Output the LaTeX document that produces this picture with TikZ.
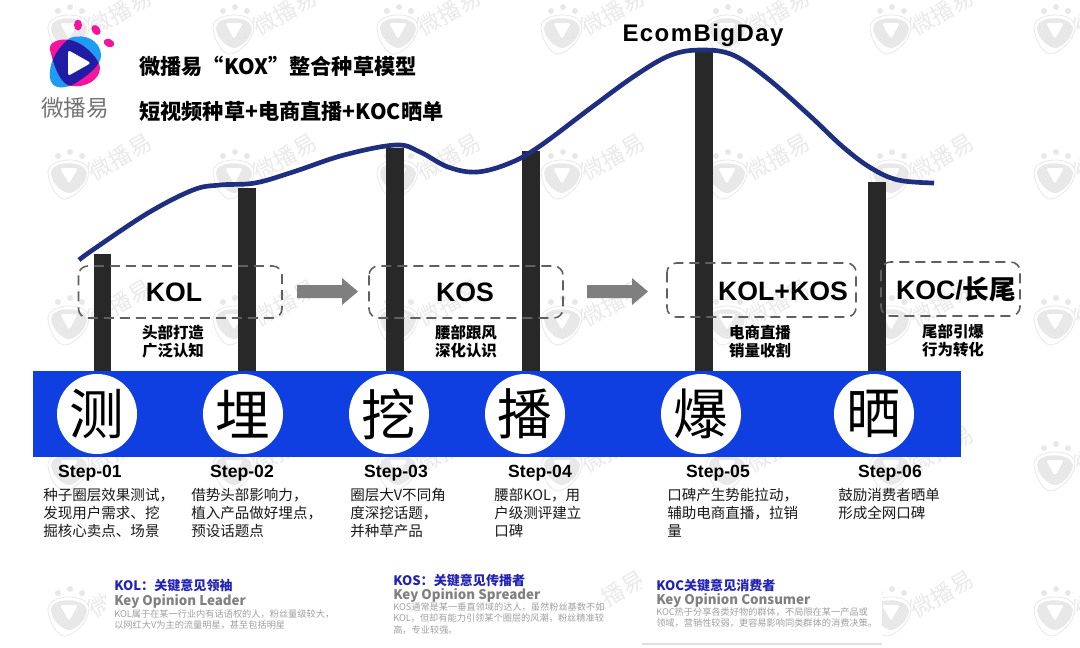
\documentclass[tikz,border=0pt]{standalone}
\usepackage{fontspec}
\setmainfont{Liberation Sans}
\newfontfamily\cjk{Noto Sans CJK SC}
\newfontfamily\ecom{Liberation Sans}[LetterSpace=6]
\definecolor{wm}{HTML}{E8E8E8}
\definecolor{wmt}{HTML}{EAEAEA}
\definecolor{barc}{HTML}{282828}
\definecolor{curvec}{HTML}{1F2F7F}
\definecolor{bandc}{HTML}{0F3FE0}
\definecolor{dashc}{HTML}{606060}
\definecolor{legblue}{HTML}{2222B4}
\definecolor{leggray}{HTML}{808080}
\definecolor{legtext}{HTML}{A0A0A0}
\definecolor{arrowc}{HTML}{7F7F7F}
\definecolor{logopink}{HTML}{F5149B}
\definecolor{logocyan}{HTML}{1E9BF5}
\definecolor{logodark}{HTML}{201CA4}
\tikzset{
 dashbox/.style={draw=dashc,dash pattern=on 7.5pt off 4.5pt,line width=1.2pt,rounded corners=7pt,fill=none},
 bigkey/.style={font=\bfseries\fontsize{20}{22}\selectfont,inner sep=0pt,anchor=center},
 circ/.style={circle,fill=white,draw=none,minimum size=60pt,inner sep=0pt,font=\cjk\fontsize{41}{41}\selectfont},
 steplab/.style={font=\bfseries\fontsize{13.2}{15}\selectfont,inner sep=0pt},
 stepdesc/.style={font=\cjk\fontsize{10.9}{13.5}\selectfont,inner sep=0pt,anchor=north west,align=left,text=black!90},
 sublab/.style={font=\cjk\bfseries\fontsize{11.6}{13.5}\selectfont,inner sep=0pt,align=center},
 title/.style={font=\cjk\bfseries\fontsize{15.9}{18}\selectfont,inner sep=0pt,anchor=west},
 legh/.style={font=\cjk\bfseries\fontsize{9.8}{12}\selectfont,text=legblue,inner sep=0pt,anchor=west},
 legs/.style={font=\cjk\bfseries\fontsize{10}{12}\selectfont,text=leggray,inner sep=0pt,anchor=west},
 legd/.style={font=\cjk\fontsize{6.9}{8.6}\selectfont,text=legtext,inner sep=0pt,anchor=north west,align=left},
 widearrow/.style={fill=arrowc,draw=none}
}
\newcommand{\wmark}[2]{%
 \begin{scope}[shift={(#1,#2)}]
  \fill[wm] (-11,-17) circle (3);
  \fill[wm] (1,-21) circle (3);
  \fill[wm] (13,-17) circle (3);
  \draw[wm,line width=.6pt] (-21,0) .. controls (-22,-16) and (18,-18) .. (20,-2) .. controls (20,14) and (2,26) .. (-4,26) .. controls (-12,26) and (-20,12) .. (-21,0) -- cycle;
  \fill[wm] (-18,0) .. controls (-18,-13) and (16,-13) .. (18,0) .. controls (17,12) and (5,20) .. (0,20) .. controls (-5,20) and (-17,12) .. (-18,0) -- cycle;
  \fill[white,rounded corners=2pt] (-9,-5) -- (9,-5) -- (0,11) -- cycle;
  \node[rotate=30,text=wmt,inner sep=0pt,font=\cjk\fontsize{17}{17}\selectfont] at (51,-16) {微播易};
 \end{scope}}
\begin{document}
\begin{tikzpicture}[x=0.75pt,y=-0.75pt]
\useasboundingbox (0,0) rectangle (1080,647);
\fill[white] (0,0) rectangle (1080,647);
% watermarks
\foreach \yy in {28,173,319,465,610}{
 \foreach \xx in {69,234,398,562,727,891,1055}{
  \wmark{\xx}{\yy}
 }}
% white panels behind legends
\fill[white] (106,568) rectangle (385,640);
\fill[white] (385,568) rectangle (600,640);
\fill[white] (642,568) rectangle (882,644);
\fill[black!12] (642,643) rectangle (882,645);
% logo
\def\cyanblob{(70,38) .. controls (85,33) and (100,40) .. (101,55) .. controls (102,65) and (85,78) .. (72,85) .. controls (60,90) and (48,88) .. (50,72) .. controls (50,60) and (60,45) .. (70,38) -- cycle}
\def\pinkblob{(50,50) .. controls (48,42) and (60,38) .. (70,40) .. controls (85,43) and (100,60) .. (100,68) .. controls (100,80) and (85,88) .. (72,86) .. controls (62,86) and (55,70) .. (50,50) -- cycle}
\fill[logocyan] \cyanblob;
\fill[logopink] \pinkblob;
\begin{scope}
 \clip \cyanblob;
 \fill[logodark] \pinkblob;
\end{scope}
\fill[white,rounded corners=2pt] (68,50) -- (91,63) -- (68,76) -- cycle;
\fill[logopink] (78,25) ellipse (4 and 5.5);
\fill[logopink,rotate around={35:(96,30)}] (96,30) ellipse (4 and 5.5);
\fill[logopink,rotate around={65:(109,43)}] (109,43) ellipse (4 and 5.5);
\node[inner sep=0pt,text=black!55,font=\cjk\fontsize{17}{17}\selectfont] (logotext) at (75,108) {微播易};
% titles
\node[title] (t1) at (139,66) {微播易“KOX”整合种草模型};
\node[title] (t2) at (139,111) {短视频种草+电商直播+KOC晒单};
\node[inner sep=0pt,font=\ecom\bfseries\fontsize{18}{20}\selectfont] (eb) at (703,35) {EcomBigDay};
% bars
\fill[barc] (94,254) rectangle (111,372);
\fill[barc] (238,188) rectangle (255.5,372);
\fill[barc] (386,148) rectangle (404,372);
\fill[barc] (522,151) rectangle (540,372);
\fill[barc] (695,52) rectangle (713,372);
\fill[barc] (868,182) rectangle (885.5,372);
% curve
\draw[curvec,line width=3.5pt,line join=round] plot[smooth,tension=.6] coordinates {(79,260) (94,249) (148,213) (193,190) (220,185) (255,183) (293,172) (344,155) (396,145) (420,152) (448,167) (477,172) (510,163) (540,146) (592,107) (636,75) (671,55) (702,50) (733,55) (767,78) (809,115) (843,147) (871,168) (898,180) (934,183)};
% dashed boxes
\draw[dashbox] (78.5,266) rectangle (282,318);
\draw[dashbox] (369,266) rectangle (563,318);
\draw[dashbox] (667,263) rectangle (856,317);
\draw[dashbox] (881,262) rectangle (1020,316);
\node[bigkey] (kol) at (174,292) {KOL};
\node[bigkey] (kos) at (465,292) {KOS};
\node[bigkey] (kk) at (783,291) {KOL+KOS};
\node[bigkey] (koc) at (956,289) {KOC/\cjk 长尾};
% arrows
\fill[widearrow] (297,285) -- (342,285) -- (342,278) -- (358,291.5) -- (342,305) -- (342,298) -- (297,298) -- cycle;
\fill[widearrow] (587,285) -- (632,285) -- (632,278) -- (648,291.5) -- (632,305) -- (632,298) -- (587,298) -- cycle;
% sublabels
\node[sublab] (s1) at (173,342) {头部打造\\广泛认知};
\node[sublab] (s2) at (466,342) {腰部跟风\\深化认识};
\node[sublab] (s3) at (760,342) {电商直播\\销量收割};
\node[sublab] (s4) at (953,341) {尾部引爆\\行为转化};
% band
\fill[bandc] (33,371) rectangle (961,457);
\node[circ] (c1) at (97,414) {\raisebox{-1.5pt}{测}};
\node[circ] (c2) at (243,414) {\raisebox{-1.5pt}{埋}};
\node[circ] (c3) at (389,414) {\raisebox{-1.5pt}{挖}};
\node[circ] (c4) at (525,414) {\raisebox{-1.5pt}{播}};
\node[circ] (c5) at (701,414) {\raisebox{-1.5pt}{爆}};
\node[circ] (c6) at (874,414) {\raisebox{-1.5pt}{晒}};
% steps
\node[steplab] (st1) at (90,473) {Step-01};
\node[steplab] (st2) at (242,473) {Step-02};
\node[steplab] (st3) at (396,473) {Step-03};
\node[steplab] (st4) at (540,473) {Step-04};
\node[steplab] (st5) at (718,473) {Step-05};
\node[steplab] (st6) at (890,473) {Step-06};
\node[stepdesc] (d1) at (43,488) {种子圈层效果测试，\\发现用户需求、挖\\掘核心卖点、场景};
\node[stepdesc] (d2) at (191,488) {借势头部影响力，\\植入产品做好埋点，\\预设话题点};
\node[stepdesc] (d3) at (350,488) {圈层大V不同角\\度深挖话题，\\并种草产品};
\node[stepdesc] (d4) at (494,488) {腰部KOL，用\\户级测评建立\\口碑};
\node[stepdesc] (d5) at (667,488) {口碑产生势能拉动，\\辅助电商直播，拉销\\量};
\node[stepdesc] (d6) at (838,488) {鼓励消费者晒单\\形成全网口碑};
% legends
\node[legh] (l1) at (114,586) {KOL：关键意见领袖};
\node[legs] (l2) at (114,601) {Key Opinion Leader};
\node[legd] (l3) at (114,609) {KOL属于在某一行业内有话语权的人，粉丝量级较大，\\以网红大V为主的流量明星，甚至包括明星};
\node[legh] (l4) at (393,581) {KOS：关键意见传播者};
\node[legs] (l5) at (393,595) {Key Opinion Spreader};
\node[legd] (l6) at (393,602) {KOS通常是某一垂直领域的达人，虽然粉丝基数不如\\KOL，但却有能力引领某个圈层的风潮，粉丝精准较\\高，专业较强。};
\node[legh] (l7) at (656,586) {KOC关键意见消费者};
\node[legs] (l8) at (656,600) {Key Opinion Consumer};
\node[legd] (l9) at (656,607) {KOC热于分享各类好物的群体，不局限在某一产品或\\领域，营销性较弱，更容易影响同类群体的消费决策。};
\end{tikzpicture}
\end{document}
